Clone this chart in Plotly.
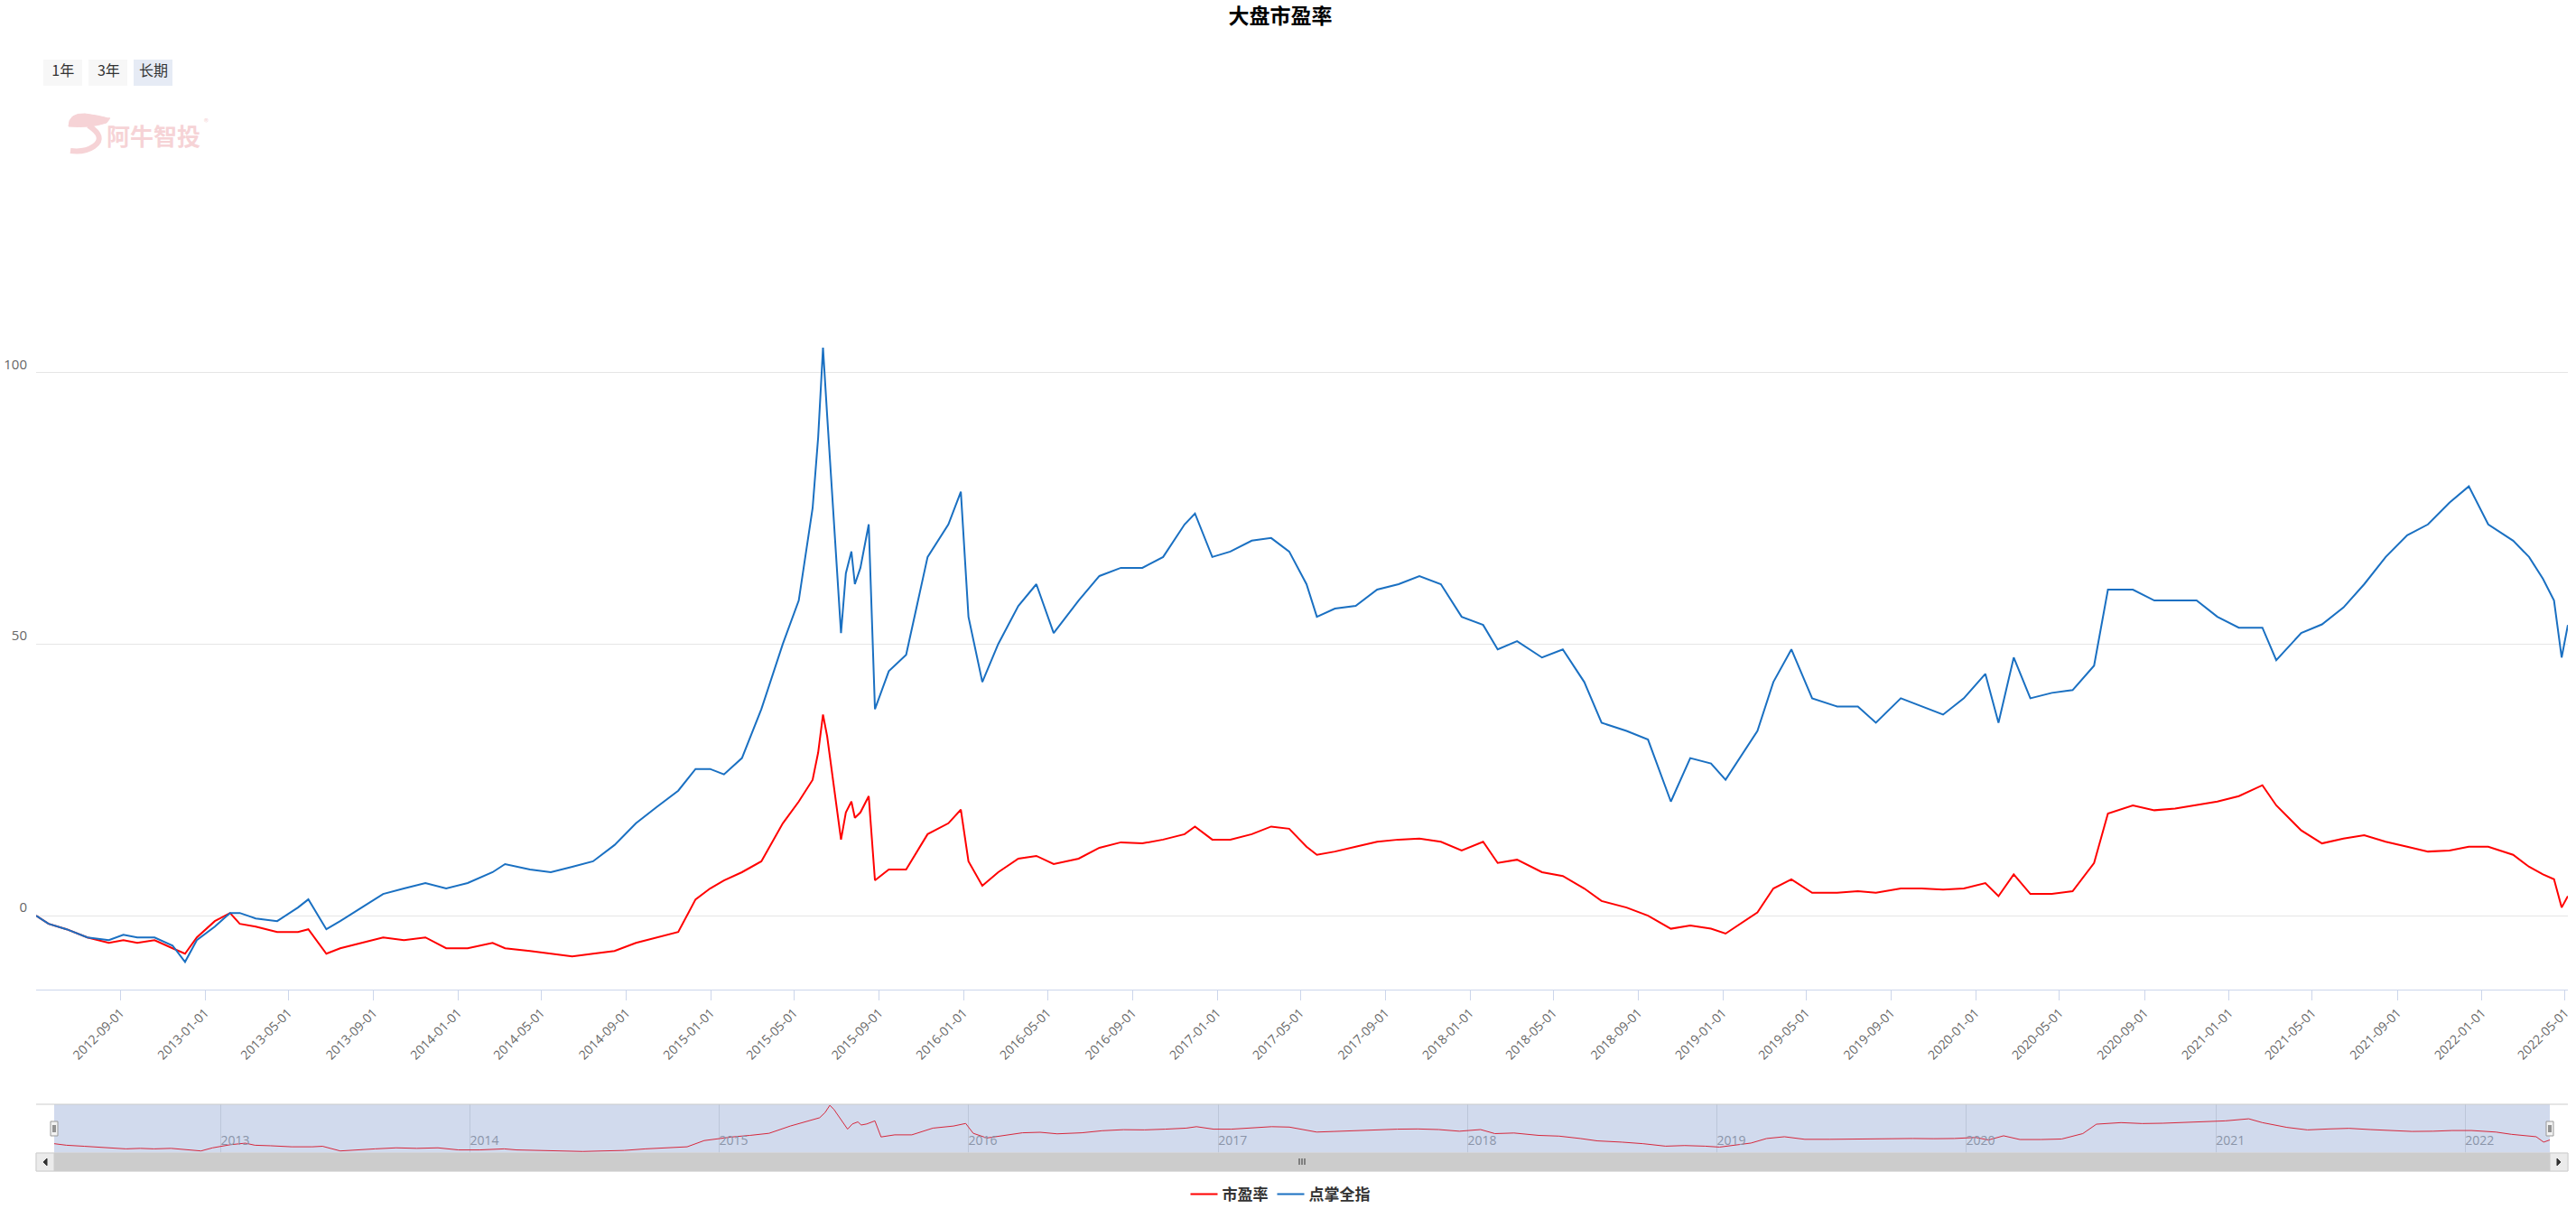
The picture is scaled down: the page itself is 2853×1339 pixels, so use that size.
import plotly.graph_objects as go

# ---------------- data ----------------
dates = [
    "2012-05-02", "2012-05-20", "2012-06-15", "2012-07-15", "2012-08-15", "2012-09-05", "2012-09-25",
    "2012-10-20", "2012-11-15", "2012-12-03", "2012-12-20",
    "2013-01-15", "2013-02-06", "2013-02-20", "2013-03-15", "2013-04-15", "2013-05-15", "2013-05-30",
    "2013-06-25", "2013-07-15", "2013-08-15", "2013-09-15", "2013-10-15", "2013-11-15", "2013-12-15",
    "2014-01-15", "2014-02-20", "2014-03-10", "2014-04-15", "2014-05-15", "2014-06-15", "2014-07-15",
    "2014-08-15", "2014-09-15", "2014-10-15", "2014-11-15", "2014-12-10", "2014-12-31",
    "2015-01-20", "2015-02-15", "2015-03-15", "2015-04-15", "2015-05-08", "2015-05-28", "2015-06-05",
    "2015-06-12", "2015-06-18", "2015-07-08", "2015-07-15", "2015-07-23", "2015-07-28", "2015-08-05",
    "2015-08-17", "2015-08-26",
    "2015-09-15", "2015-10-10", "2015-11-10", "2015-12-10", "2015-12-28",
    "2016-01-08", "2016-01-28", "2016-02-20", "2016-03-20", "2016-04-15", "2016-05-10", "2016-06-15",
    "2016-07-15", "2016-08-15", "2016-09-15", "2016-10-15", "2016-11-15", "2016-11-30", "2016-12-25",
    "2017-01-20", "2017-02-20", "2017-03-20", "2017-04-15", "2017-05-10", "2017-05-25", "2017-06-20",
    "2017-07-20", "2017-08-20", "2017-09-20", "2017-10-20", "2017-11-20", "2017-12-20",
    "2018-01-20", "2018-02-10", "2018-03-10", "2018-04-15", "2018-05-15", "2018-06-15", "2018-07-10",
    "2018-08-15", "2018-09-15", "2018-10-18", "2018-11-15", "2018-12-15",
    "2019-01-05", "2019-02-20", "2019-03-15", "2019-04-10", "2019-05-10", "2019-06-15", "2019-07-15",
    "2019-08-10", "2019-09-15", "2019-10-15", "2019-11-15", "2019-12-15",
    "2020-01-15", "2020-02-03", "2020-02-25", "2020-03-20", "2020-04-20", "2020-05-20", "2020-06-20",
    "2020-07-10", "2020-08-15", "2020-09-15", "2020-10-15", "2020-11-15", "2020-12-15",
    "2021-01-15", "2021-02-18", "2021-03-10", "2021-04-15", "2021-05-15", "2021-06-15", "2021-07-15",
    "2021-08-15", "2021-09-15", "2021-10-15", "2021-11-15", "2021-12-13",
    "2022-01-10", "2022-02-15", "2022-03-10", "2022-03-30", "2022-04-15", "2022-04-26", "2022-05-05",
]

# 点掌全指 (blue)
index_values = [
    0, -1.5, -2.5, -4, -4.5, -3.5, -4, -4, -5.5, -8.5, -4.5,
    -2, 0.5, 0.5, -0.5, -1, 1.5, 3, -2.5, -1, 1.5, 4, 5, 6, 5,
    6, 8, 9.5, 8.5, 8, 9, 10, 13, 17, 20, 23, 27, 27,
    26, 29, 38, 50, 58, 75, 88, 104.5, 92, 52, 63, 67, 61, 64, 72, 38,
    45, 48, 66, 72, 78,
    55, 43, 50, 57, 61, 52, 58, 62.5, 64, 64, 66, 72, 74, 66,
    67, 69, 69.5, 67, 61, 55, 56.5, 57, 60, 61, 62.5, 61, 55,
    53.5, 49, 50.5, 47.5, 49, 43, 35.5, 34, 32.4, 21, 29, 28,
    25, 34, 43, 49, 40, 38.5, 38.5, 35.5, 40, 38.5, 37, 40,
    44.5, 35.5, 47.5, 40, 41, 41.5, 46, 60, 60, 58, 58, 58, 55,
    53, 53, 47, 52, 53.6, 56.7, 61, 66, 70, 72, 76, 79,
    72, 69, 66, 62, 58, 47.5, 53.5,
]

# 市盈率 (red)
pe_values = [
    0, -1.5, -2.5, -4, -5, -4.5, -5, -4.5, -6, -7, -4,
    -1, 0.5, -1.5, -2, -3, -3, -2.5, -7, -6, -5, -4, -4.5, -4, -6,
    -6, -5, -6, -6.5, -7, -7.5, -7, -6.5, -5, -4, -3, 3, 5,
    6.5, 8, 10, 17, 21, 25, 30, 37, 33, 14, 19, 21, 18, 19, 22, 6.5,
    8.5, 8.5, 15, 17, 19.5,
    10, 5.5, 8, 10.5, 11, 9.5, 10.5, 12.5, 13.5, 13.3, 14, 15, 16.4, 14,
    14, 15, 16.4, 16, 12.7, 11.2, 11.8, 12.7, 13.6, 14, 14.2, 13.6, 12,
    13.6, 9.7, 10.3, 8, 7.3, 5, 2.7, 1.5, 0, -2.4, -1.8, -2.4,
    -3.3, 0.6, 5, 6.7, 4.2, 4.2, 4.5, 4.2, 5, 5, 4.8, 5,
    6, 3.6, 7.6, 4, 4, 4.5, 9.7, 18.8, 20.3, 19.4, 19.7, 20.3, 21,
    22, 24, 20.3, 15.7, 13.3, 14.2, 14.8, 13.6, 12.7, 11.8, 12, 12.7,
    12.7, 11.2, 9, 7.6, 6.7, 1.5, 3.6,
]

series_names = ["市盈率", "点掌全指"]
y_tick_values = [0, 50, 100, 150]
y_tick_labels = ["0", "50", "100", ""]
range_buttons = ["1年", "3年", "长期"]

# ---------------- layout geometry ----------------
W, H = 2853, 1339
ML, MR, MT, MB = 40, 9, 111, 42
PW = W - ML - MR
PH = H - MT - MB


def pxx(x):
    return (x - ML) / PW


def pxy(y):
    return (H - MB - y) / PH


RED = "#ff0000"
BLUE = "#1a70c2"
CJK = "Noto Sans CJK SC"
NUM = "Open Sans, Noto Sans CJK SC"
PINK = "#f6d3d6"

fig = go.Figure()
fig.add_trace(go.Scatter(x=dates, y=pe_values, name=series_names[0], mode="lines",
                         line=dict(color=RED, width=2)))
fig.add_trace(go.Scatter(x=dates, y=index_values, name=series_names[1], mode="lines",
                         line=dict(color=BLUE, width=2)))
# navigator series
fig.add_trace(go.Scatter(x=dates, y=pe_values, mode="lines", xaxis="x2", yaxis="y2",
                         line=dict(color="#d6283c", width=1), showlegend=False, hoverinfo="skip"))


def P(x, y):
    return "{:.6f} {:.6f}".format(pxx(x), pxy(y))


shapes = []
# range selector button backgrounds
for i, (bx0, bx1) in enumerate([(48, 91), (98, 141), (148, 191)]):
    shapes.append(dict(type="rect", xref="paper", yref="paper", x0=pxx(bx0), x1=pxx(bx1),
                       y0=pxy(95), y1=pxy(66), fillcolor="#e6ebf5" if i == 2 else "#f7f7f7",
                       line=dict(width=0), layer="below"))
# navigator mask
shapes.append(dict(type="rect", xref="x2 domain", yref="y2 domain", x0=0, x1=1, y0=0, y1=1,
                   fillcolor="rgba(102,133,194,0.3)", line=dict(width=0), layer="below"))
# navigator top outline
shapes.append(dict(type="line", xref="paper", yref="paper", x0=pxx(40), x1=pxx(2844),
                   y0=pxy(1223), y1=pxy(1223), line=dict(color="#cccccc", width=1)))
# scrollbar track & bar
shapes.append(dict(type="rect", xref="paper", yref="paper", x0=pxx(40), x1=pxx(2844),
                   y0=pxy(1297), y1=pxy(1277), fillcolor="#f2f2f2", line=dict(color="#e6e6e6", width=1)))
shapes.append(dict(type="rect", xref="paper", yref="paper", x0=pxx(60), x1=pxx(2824),
                   y0=pxy(1297), y1=pxy(1277), fillcolor="#cccccc", line=dict(color="#cccccc", width=1)))
for bx0, bx1 in [(40, 60), (2824, 2844)]:
    shapes.append(dict(type="rect", xref="paper", yref="paper", x0=pxx(bx0), x1=pxx(bx1),
                       y0=pxy(1297), y1=pxy(1277), fillcolor="#ebebeb", line=dict(color="#cccccc", width=1)))
# arrows
for p in ("M {} L {} L {} Z".format(P(48, 1287), P(52, 1283), P(52, 1291)),
          "M {} L {} L {} Z".format(P(2836, 1287), P(2832, 1283), P(2832, 1291))):
    shapes.append(dict(type="path", xref="paper", yref="paper", path=p, fillcolor="#333333",
                       line=dict(color="#333333", width=1)))
# rifles
for dx in (-3, 0, 3):
    shapes.append(dict(type="line", xref="paper", yref="paper", x0=pxx(1442 + dx), x1=pxx(1442 + dx),
                       y0=pxy(1283), y1=pxy(1290), line=dict(color="#333333", width=1)))
# handles
for hx in (60, 2824):
    shapes.append(dict(type="rect", xref="paper", yref="paper", x0=pxx(hx - 4), x1=pxx(hx + 4),
                       y0=pxy(1258), y1=pxy(1242), fillcolor="#f2f2f2", line=dict(color="#999999", width=1)))
    for dx in (-1, 1):
        shapes.append(dict(type="line", xref="paper", yref="paper", x0=pxx(hx + dx), x1=pxx(hx + dx),
                           y0=pxy(1254), y1=pxy(1246), line=dict(color="#333333", width=1)))
# watermark logo
shapes.append(dict(type="path", xref="paper", yref="paper",
                   path="M {} Q {} {} Q {} {}".format(P(98, 139), P(118, 152), P(104, 162),
                                                      P(94, 169), P(78, 167)),
                   line=dict(color=PINK, width=6)))
shapes.append(dict(type="path", xref="paper", yref="paper",
                   path="M {} Q {} {} Q {} {} Q {} {} Q {} {} Z".format(
                       P(76, 140), P(76, 125), P(94, 126),
                       P(110, 128), P(120, 131), P(124, 129), P(118, 136),
                       P(100, 142), P(76, 140)),
                   fillcolor=PINK, line=dict(color=PINK, width=1)))

annotations = [
    dict(text="阿牛智投", x=pxx(170), y=pxy(150), xref="paper", yref="paper", showarrow=False,
         font=dict(family=CJK, size=26, color=PINK, weight="bold"), xanchor="center", yanchor="middle"),
    dict(text="®", x=pxx(228), y=pxy(134), xref="paper", yref="paper", showarrow=False,
         font=dict(family=CJK, size=10, color=PINK), xanchor="center", yanchor="middle"),
]

fig.update_layout(
    width=W, height=H,
    margin=dict(l=ML, r=MR, t=MT, b=MB, autoexpand=False),
    paper_bgcolor="white", plot_bgcolor="white",
    title=dict(text="大盘市盈率", x=1418 / W, xref="container", xanchor="center",
               y=1 - 18 / H, yref="container", yanchor="middle",
               font=dict(family=CJK, size=23, color="#000000", weight="bold")),
    xaxis=dict(
        type="date", autorange=True, domain=[0, 1], anchor="y", automargin=False,
        tick0="2012-09-01", dtick="M4", tickformat="%Y-%m-%d", tickangle=-45,
        ticks="outside", ticklen=11, tickcolor="#ccd6eb", tickwidth=1,
        showline=True, linecolor="#ccd6eb", linewidth=1, showgrid=False, zeroline=False,
        tickfont=dict(family=NUM, size=14, color="#666666"),
        rangeselector=dict(
            buttons=[
                dict(count=1, label="\u2004" + range_buttons[0] + "\u2004", step="year", stepmode="backward"),
                dict(count=3, label="\u2004" + range_buttons[1] + "\u2004", step="year", stepmode="backward"),
                dict(label="\u200a" + range_buttons[2] + "\u200a", step="all"),
            ],
            x=pxx(47), xanchor="left", y=pxy(92.5), yanchor="bottom",
            bgcolor="rgba(0,0,0,0)", activecolor="rgba(0,0,0,0)", borderwidth=0,
            font=dict(family=CJK, size=16, color="#333333"),
        ),
    ),
    yaxis=dict(
        domain=[pxy(1096), 1], anchor="x", range=[-13.6, 150.05], automargin=False,
        tickvals=y_tick_values, ticktext=y_tick_labels,
        showgrid=True, gridcolor="#e6e6e6", gridwidth=1, zeroline=False, showline=False,
        ticks="", ticklabelstandoff=9, ticklabelshift=-9,
        tickfont=dict(family=NUM, size=15, color="#666666"),
    ),
    xaxis2=dict(
        type="date", autorange=True, domain=[pxx(60), pxx(2824)], anchor="y2", automargin=False,
        tick0="2013-01-01", dtick="M12", tickformat="%Y",
        showgrid=True, gridcolor="#bcc6d9", gridwidth=1, zeroline=False, showline=False,
        ticks="", ticklabelposition="inside right",
        tickfont=dict(family=NUM, size=14, color="#8a94a8"),
    ),
    yaxis2=dict(
        domain=[pxy(1277), pxy(1223)], anchor="x2", range=[-9, 38],
        visible=False, showgrid=False, zeroline=False,
    ),
    showlegend=True,
    legend=dict(orientation="h", x=1418 / W, xref="container", xanchor="center",
                y=1 - 1323 / H, yref="container", yanchor="middle",
                font=dict(family=CJK, size=17, color="#333333", weight="bold"),
                bgcolor="rgba(0,0,0,0)"),
    shapes=shapes,
    annotations=annotations,
    hovermode="x unified",
)

fig.write_html("out.html")
